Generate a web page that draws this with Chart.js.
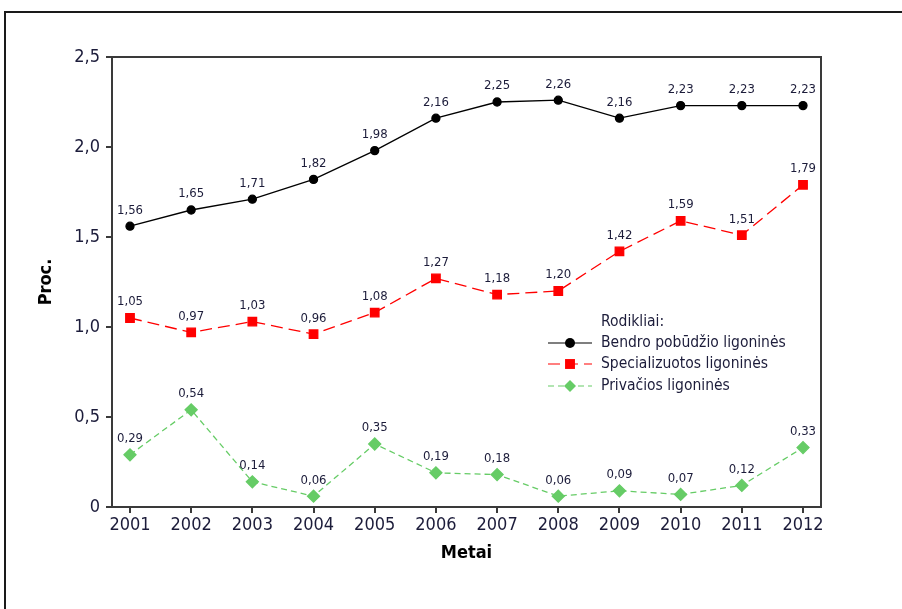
<!DOCTYPE html>
<html>
<head>
<meta charset="utf-8">
<script src="https://cdn.jsdelivr.net/npm/chart.js@4"></script>
<style>
  html, body { margin: 0; padding: 0; background: #fff; overflow: hidden; }
  #frame { position: absolute; left: 4px; top: 11px; width: 1000px; height: 700px; border: 2px solid #1a1a1a; }
  #wrap { position: absolute; left: 0; top: 0; width: 902px; height: 609px; }
</style>
</head>
<body>
<div id="frame"></div>
<div id="wrap"><canvas id="chart" width="902" height="609"></canvas></div>
<script>
const years = [2001, 2002, 2003, 2004, 2005, 2006, 2007, 2008, 2009, 2010, 2011, 2012];
const bendro = [1.56, 1.65, 1.71, 1.82, 1.98, 2.16, 2.25, 2.26, 2.16, 2.23, 2.23, 2.23];
const specializuotos = [1.05, 0.97, 1.03, 0.96, 1.08, 1.27, 1.18, 1.20, 1.42, 1.59, 1.51, 1.79];
const privacios = [0.29, 0.54, 0.14, 0.06, 0.35, 0.19, 0.18, 0.06, 0.09, 0.07, 0.12, 0.33];
const seriesNames = ["Bendro pobūdžio ligoninės", "Specializuotos ligoninės", "Privačios ligoninės"];
const yTickLabels = ["0", "0,5", "1,0", "1,5", "2,0", "2,5"];
const legendTitle = "Rodikliai:";
const xTitle = "Metai";
const yTitle = "Proc.";

const font = "'DejaVu Sans Condensed', 'DejaVu Sans', sans-serif";
const textColor = "#1c1c3a";
const axisColor = "#3a3a3a";

function pts(values) {
  return values.map((v, i) => ({ x: years[i], y: v }));
}

const extras = {
  id: "extras",
  afterDatasetsDraw(chart) {
    const ctx = chart.ctx;
    const area = chart.chartArea;
    ctx.save();
    // top and right side of the plot box
    ctx.strokeStyle = axisColor;
    ctx.lineWidth = 2;
    ctx.beginPath();
    ctx.moveTo(area.left, area.top);
    ctx.lineTo(area.right, area.top);
    ctx.lineTo(area.right, area.bottom);
    ctx.stroke();

    // value labels
    ctx.fillStyle = textColor;
    ctx.font = "13px " + font;
    ctx.textAlign = "center";
    ctx.textBaseline = "middle";
    chart.data.datasets.forEach((ds, di) => {
      chart.getDatasetMeta(di).data.forEach((p, i) => {
        ctx.fillText(ds.data[i].y.toFixed(2).replace(".", ","), p.x, p.y - 16);
      });
    });

    // axis titles
    ctx.fillStyle = "#000";
    ctx.font = "bold 18px " + font;
    ctx.fillText(xTitle, (area.left + area.right) / 2, 553);
    ctx.save();
    ctx.translate(46, (area.top + area.bottom) / 2);
    ctx.rotate(-Math.PI / 2);
    ctx.fillText(yTitle, 0, 0);
    ctx.restore();

    // legend
    ctx.textAlign = "left";
    ctx.fillStyle = textColor;
    ctx.font = "15.5px " + font;
    ctx.fillText(legendTitle, 601, 322);
    const rows = [343, 364, 386];
    chart.data.datasets.forEach((ds, di) => {
      const y = rows[di];
      ctx.strokeStyle = ds.borderColor;
      ctx.lineWidth = 1.2;
      ctx.setLineDash(ds.borderDash || []);
      ctx.beginPath();
      ctx.moveTo(548, y);
      ctx.lineTo(592, y);
      ctx.stroke();
      ctx.setLineDash([]);
      ctx.fillStyle = ds.pointBackgroundColor;
      ctx.strokeStyle = ds.pointBackgroundColor;
      Chart.helpers.drawPoint(ctx, {
        pointStyle: ds.pointStyle,
        radius: ds.legendRadius,
        rotation: 0,
        borderWidth: 0
      }, 570, y);
      ctx.fillStyle = textColor;
      ctx.fillText(seriesNames[di], 601, y);
    });
    ctx.restore();
  }
};

new Chart(document.getElementById("chart"), {
  type: "line",
  data: {
    datasets: [
      {
        label: seriesNames[0],
        data: pts(bendro),
        borderColor: "#000000",
        pointBackgroundColor: "#000000",
        pointBorderColor: "#000000",
        pointStyle: "circle",
        pointRadius: 4,
        legendRadius: 5,
        borderWidth: 1.3,
        borderDash: []
      },
      {
        label: seriesNames[1],
        data: pts(specializuotos),
        borderColor: "#ff0000",
        pointBackgroundColor: "#ff0000",
        pointBorderColor: "#ff0000",
        pointStyle: "rect",
        pointRadius: 6,
        legendRadius: 7,
        borderWidth: 1.3,
        borderDash: [12, 6]
      },
      {
        label: seriesNames[2],
        data: pts(privacios),
        borderColor: "#66cc66",
        pointBackgroundColor: "#66cc66",
        pointBorderColor: "#66cc66",
        pointStyle: "rectRot",
        pointRadius: 6,
        legendRadius: 6,
        borderWidth: 1.3,
        borderDash: [6, 4]
      }
    ]
  },
  options: {
    responsive: false,
    animation: false,
    layout: { padding: { left: 0, top: 57, right: 81, bottom: 0 } },
    plugins: { legend: { display: false }, tooltip: { enabled: false } },
    elements: { point: { borderWidth: 0 }, line: { tension: 0 } },
    scales: {
      x: {
        type: "linear",
        min: 2000.706,
        max: 2012.294,
        afterFit: s => { s.height = 102; },
        afterBuildTicks: s => { s.ticks = years.map(v => ({ value: v })); },
        ticks: {
          callback: v => String(v),
          color: textColor,
          font: { family: font, size: 18 },
          padding: 2,
          maxRotation: 0,
          autoSkip: false
        },
        grid: { drawOnChartArea: false, drawTicks: true, tickLength: 6, color: axisColor, lineWidth: 2 },
        border: { display: true, color: axisColor, width: 2 }
      },
      y: {
        min: 0,
        max: 2.5,
        afterFit: s => { s.width = 112; },
        ticks: {
          stepSize: 0.5,
          callback: (v, i) => yTickLabels[i],
          color: textColor,
          font: { family: font, size: 18 },
          padding: 6
        },
        grid: { drawOnChartArea: false, drawTicks: true, tickLength: 6, color: axisColor, lineWidth: 2 },
        border: { display: true, color: axisColor, width: 2 }
      }
    }
  },
  plugins: [extras]
});
</script>
</body>
</html>
